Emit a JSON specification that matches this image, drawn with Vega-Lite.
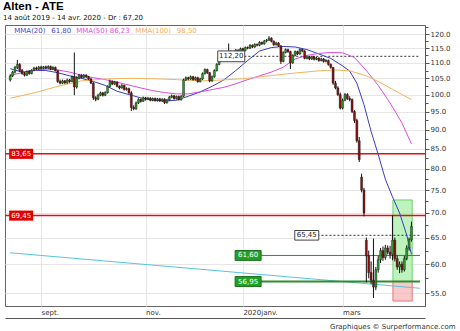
{
"$schema": "https://vega.github.io/schema/vega-lite/v6.json",
"width": 420, "height": 281,
"autosize": "none",
"padding": {"left": 5, "top": 25, "right": 35, "bottom": 25},
"background": "white",
"config": {"view": {"stroke": "#666", "strokeWidth": 1}, "font": "DejaVu Sans"},
"title": {"text": "Alten - ATE", "subtitle": "14 août 2019 - 14 avr. 2020 - Dr : 67,20", "anchor": "start", "frame": "group", "font": "Liberation Sans", "fontSize": 11.5, "fontWeight": "bold", "color": "#000", "subtitleFont": "DejaVu Sans", "subtitleFontSize": 7, "subtitleColor": "#111", "subtitlePadding": 2, "offset": 4, "dx": -2},
"datasets": {
"candles": [
{"i":0,"o":104.5,"h":106.3,"l":104.0,"c":105.8},{"i":1,"o":105.8,"h":107.4,"l":105.4,"c":107.0},{"i":2,"o":107.0,"h":109.0,"l":106.6,"c":108.5},{"i":3,"o":108.5,"h":111.0,"l":108.0,"c":109.5},{"i":4,"o":109.5,"h":109.9,"l":107.0,"c":107.5},{"i":5,"o":107.5,"h":108.0,"l":106.2,"c":106.5},{"i":6,"o":106.5,"h":107.0,"l":105.6,"c":106.0},{"i":7,"o":106.0,"h":107.5,"l":105.7,"c":107.2},{"i":8,"o":107.2,"h":107.6,"l":106.2,"c":106.5},{"i":9,"o":106.5,"h":107.9,"l":106.3,"c":107.6},
{"i":10,"o":107.6,"h":108.7,"l":107.3,"c":108.3},{"i":11,"o":108.3,"h":108.8,"l":107.6,"c":108.0},{"i":12,"o":108.0,"h":109.0,"l":107.7,"c":108.6},{"i":13,"o":108.6,"h":109.1,"l":107.8,"c":108.2},{"i":14,"o":108.2,"h":109.0,"l":107.9,"c":108.7},{"i":15,"o":108.7,"h":109.1,"l":107.9,"c":108.3},{"i":16,"o":108.3,"h":109.2,"l":108.0,"c":108.8},{"i":17,"o":108.8,"h":109.1,"l":107.6,"c":108.0},{"i":18,"o":108.0,"h":108.9,"l":107.7,"c":108.5},{"i":19,"o":108.5,"h":108.8,"l":107.2,"c":107.5},
{"i":20,"o":107.5,"h":107.7,"l":103.6,"c":104.0},{"i":21,"o":104.0,"h":104.6,"l":103.1,"c":103.5},{"i":22,"o":103.5,"h":104.6,"l":103.2,"c":104.2},{"i":23,"o":104.2,"h":104.5,"l":103.2,"c":103.6},{"i":24,"o":103.6,"h":104.9,"l":103.3,"c":104.5},{"i":25,"o":104.5,"h":104.8,"l":103.6,"c":104.0},{"i":26,"o":104.0,"h":105.9,"l":103.8,"c":105.5},{"i":27,"o":105.5,"h":113.5,"l":99.8,"c":102.3},{"i":28,"o":102.3,"h":105.6,"l":101.8,"c":105.0},{"i":29,"o":105.0,"h":106.4,"l":104.7,"c":106.0},
{"i":30,"o":106.0,"h":106.3,"l":105.0,"c":105.3},{"i":31,"o":105.3,"h":106.4,"l":105.0,"c":106.0},{"i":32,"o":106.0,"h":106.3,"l":105.1,"c":105.5},{"i":33,"o":105.5,"h":105.8,"l":104.5,"c":104.8},{"i":34,"o":104.8,"h":105.1,"l":103.2,"c":103.5},{"i":35,"o":103.5,"h":103.8,"l":98.4,"c":99.0},{"i":36,"o":99.0,"h":99.5,"l":98.0,"c":98.6},{"i":37,"o":98.6,"h":100.2,"l":98.3,"c":99.8},{"i":38,"o":99.8,"h":100.9,"l":99.5,"c":100.5},{"i":39,"o":100.5,"h":100.8,"l":99.4,"c":99.8},
{"i":40,"o":99.8,"h":101.0,"l":99.5,"c":100.6},{"i":41,"o":100.6,"h":102.8,"l":100.3,"c":102.5},{"i":42,"o":102.5,"h":104.6,"l":102.2,"c":104.0},{"i":43,"o":104.0,"h":104.3,"l":102.9,"c":103.2},{"i":44,"o":103.2,"h":104.2,"l":102.9,"c":103.8},{"i":45,"o":103.8,"h":104.1,"l":102.2,"c":102.5},{"i":46,"o":102.5,"h":102.8,"l":101.6,"c":102.0},{"i":47,"o":102.0,"h":103.2,"l":101.8,"c":102.8},{"i":48,"o":102.8,"h":103.0,"l":101.2,"c":101.5},{"i":49,"o":101.5,"h":102.2,"l":101.2,"c":101.8},
{"i":50,"o":101.8,"h":102.1,"l":100.2,"c":100.5},{"i":51,"o":100.5,"h":101.0,"l":95.2,"c":96.2},{"i":52,"o":96.2,"h":96.8,"l":95.4,"c":95.8},{"i":53,"o":95.8,"h":97.9,"l":95.5,"c":97.5},{"i":54,"o":97.5,"h":98.9,"l":97.2,"c":98.5},{"i":55,"o":98.5,"h":98.8,"l":97.6,"c":98.0},{"i":56,"o":98.0,"h":99.4,"l":97.8,"c":99.0},{"i":57,"o":99.0,"h":99.3,"l":98.2,"c":98.6},{"i":58,"o":98.6,"h":99.3,"l":98.3,"c":98.9},{"i":59,"o":98.9,"h":99.2,"l":98.0,"c":98.3},
{"i":60,"o":98.3,"h":99.1,"l":98.0,"c":98.8},{"i":61,"o":98.8,"h":99.1,"l":97.9,"c":98.2},{"i":62,"o":98.2,"h":99.0,"l":97.9,"c":98.7},{"i":63,"o":98.7,"h":99.0,"l":97.8,"c":98.1},{"i":64,"o":98.1,"h":98.9,"l":97.8,"c":98.6},{"i":65,"o":98.6,"h":98.9,"l":97.2,"c":97.6},{"i":66,"o":97.6,"h":98.7,"l":97.3,"c":98.4},{"i":67,"o":98.4,"h":99.6,"l":98.1,"c":99.2},{"i":68,"o":99.2,"h":100.0,"l":98.9,"c":99.6},{"i":69,"o":99.6,"h":99.9,"l":98.5,"c":98.8},
{"i":70,"o":98.8,"h":99.7,"l":98.5,"c":99.4},{"i":71,"o":99.4,"h":99.7,"l":98.2,"c":98.5},{"i":72,"o":98.5,"h":99.8,"l":98.2,"c":99.5},{"i":73,"o":99.5,"h":104.9,"l":99.3,"c":104.5},{"i":74,"o":104.5,"h":105.6,"l":104.2,"c":105.2},{"i":75,"o":105.2,"h":105.5,"l":104.4,"c":104.8},{"i":76,"o":104.8,"h":105.9,"l":104.5,"c":105.5},{"i":77,"o":105.5,"h":105.8,"l":104.3,"c":104.6},{"i":78,"o":104.6,"h":105.6,"l":104.3,"c":105.2},{"i":79,"o":105.2,"h":105.5,"l":103.6,"c":104.0},
{"i":80,"o":104.0,"h":105.2,"l":103.7,"c":104.8},{"i":81,"o":104.8,"h":106.9,"l":104.5,"c":106.5},{"i":82,"o":106.5,"h":108.2,"l":106.2,"c":107.8},{"i":83,"o":107.8,"h":108.1,"l":106.4,"c":106.8},{"i":84,"o":106.8,"h":107.0,"l":103.8,"c":104.2},{"i":85,"o":104.2,"h":105.9,"l":103.9,"c":105.5},{"i":86,"o":105.5,"h":107.9,"l":105.2,"c":107.5},{"i":87,"o":107.5,"h":109.9,"l":107.2,"c":109.5},{"i":88,"o":109.5,"h":112.2,"l":109.2,"c":111.8},{"i":89,"o":111.8,"h":112.1,"l":110.9,"c":111.3},
{"i":90,"o":111.3,"h":112.6,"l":111.0,"c":112.2},{"i":91,"o":112.2,"h":112.5,"l":111.4,"c":111.8},{"i":92,"o":111.8,"h":116.6,"l":111.5,"c":113.0},{"i":93,"o":113.0,"h":114.2,"l":112.7,"c":113.8},{"i":94,"o":113.8,"h":114.1,"l":112.9,"c":113.2},{"i":95,"o":113.2,"h":114.7,"l":113.0,"c":114.3},{"i":96,"o":114.3,"h":114.6,"l":113.6,"c":114.0},{"i":97,"o":114.0,"h":115.2,"l":113.7,"c":114.8},{"i":98,"o":114.8,"h":115.1,"l":113.8,"c":114.2},{"i":99,"o":114.2,"h":115.6,"l":113.9,"c":115.2},
{"i":100,"o":115.2,"h":115.6,"l":114.6,"c":115.0},{"i":101,"o":115.0,"h":116.4,"l":114.7,"c":116.0},{"i":102,"o":116.0,"h":116.3,"l":115.0,"c":115.4},{"i":103,"o":115.4,"h":116.7,"l":115.1,"c":116.3},{"i":104,"o":116.3,"h":116.6,"l":115.6,"c":116.0},{"i":105,"o":116.0,"h":117.4,"l":115.7,"c":117.0},{"i":106,"o":117.0,"h":117.3,"l":116.1,"c":116.5},{"i":107,"o":116.5,"h":117.9,"l":116.2,"c":117.5},{"i":108,"o":117.5,"h":118.2,"l":117.0,"c":117.8},{"i":109,"o":117.8,"h":119.2,"l":117.5,"c":118.5},
{"i":110,"o":118.5,"h":118.8,"l":117.0,"c":117.4},{"i":111,"o":117.4,"h":117.7,"l":115.8,"c":116.2},{"i":112,"o":116.2,"h":117.2,"l":115.9,"c":116.8},{"i":113,"o":116.8,"h":117.1,"l":115.4,"c":115.8},{"i":114,"o":115.8,"h":116.0,"l":109.6,"c":110.5},{"i":115,"o":110.5,"h":113.9,"l":110.2,"c":113.5},{"i":116,"o":113.5,"h":114.9,"l":113.2,"c":114.5},{"i":117,"o":114.5,"h":114.8,"l":113.4,"c":113.8},{"i":118,"o":113.8,"h":114.1,"l":108.0,"c":110.0},{"i":119,"o":110.0,"h":112.9,"l":109.7,"c":112.5},
{"i":120,"o":112.5,"h":114.2,"l":112.2,"c":113.8},{"i":121,"o":113.8,"h":114.1,"l":112.6,"c":113.0},{"i":122,"o":113.0,"h":114.9,"l":112.7,"c":114.5},{"i":123,"o":114.5,"h":114.8,"l":113.6,"c":114.0},{"i":124,"o":114.0,"h":114.3,"l":111.2,"c":111.5},{"i":125,"o":111.5,"h":112.4,"l":111.2,"c":112.0},{"i":126,"o":112.0,"h":112.3,"l":110.9,"c":111.3},{"i":127,"o":111.3,"h":112.4,"l":111.0,"c":112.0},{"i":128,"o":112.0,"h":112.3,"l":110.8,"c":111.2},{"i":129,"o":111.2,"h":112.0,"l":110.9,"c":111.6},
{"i":130,"o":111.6,"h":111.9,"l":110.4,"c":110.8},{"i":131,"o":110.8,"h":111.7,"l":110.5,"c":111.3},{"i":132,"o":111.3,"h":111.6,"l":110.1,"c":110.5},{"i":133,"o":110.5,"h":111.2,"l":110.2,"c":110.8},{"i":134,"o":110.8,"h":111.1,"l":109.1,"c":109.5},{"i":135,"o":109.5,"h":109.8,"l":108.1,"c":108.5},{"i":136,"o":108.5,"h":108.7,"l":103.0,"c":103.5},{"i":137,"o":103.5,"h":104.2,"l":101.6,"c":102.0},{"i":138,"o":102.0,"h":102.5,"l":99.6,"c":100.0},{"i":139,"o":100.0,"h":100.6,"l":95.6,"c":96.0},
{"i":140,"o":96.0,"h":98.8,"l":95.6,"c":98.3},{"i":141,"o":98.3,"h":100.5,"l":98.0,"c":100.0},{"i":142,"o":100.0,"h":100.4,"l":98.4,"c":98.8},{"i":143,"o":98.8,"h":99.5,"l":98.0,"c":98.5},{"i":144,"o":98.5,"h":98.8,"l":94.6,"c":95.0},{"i":145,"o":95.0,"h":95.4,"l":91.8,"c":92.5},{"i":146,"o":92.5,"h":93.0,"l":86.5,"c":87.0},{"i":147,"o":87.0,"h":88.0,"l":81.6,"c":82.2},{"i":148,"o":78.0,"h":78.8,"l":74.5,"c":75.0},{"i":149,"o":75.0,"h":75.5,"l":69.3,"c":70.0},
{"i":150,"o":64.5,"h":65.0,"l":56.8,"c":61.5},{"i":151,"o":61.5,"h":62.5,"l":57.5,"c":58.5},{"i":152,"o":58.5,"h":60.5,"l":56.5,"c":57.2},{"i":153,"o":57.2,"h":64.8,"l":54.2,"c":56.0},{"i":154,"o":56.0,"h":59.5,"l":55.5,"c":59.0},{"i":155,"o":59.0,"h":61.5,"l":58.5,"c":60.8},{"i":156,"o":60.8,"h":63.0,"l":60.2,"c":62.5},{"i":157,"o":62.5,"h":63.3,"l":60.6,"c":61.2},{"i":158,"o":61.2,"h":63.6,"l":60.8,"c":63.0},{"i":159,"o":63.0,"h":63.5,"l":61.8,"c":62.2},
{"i":160,"o":62.2,"h":63.4,"l":61.0,"c":61.8},{"i":161,"o":61.8,"h":69.5,"l":60.7,"c":64.5},{"i":162,"o":64.5,"h":65.0,"l":60.5,"c":61.0},{"i":163,"o":61.0,"h":61.6,"l":59.0,"c":59.5},{"i":164,"o":59.5,"h":60.5,"l":58.4,"c":60.0},{"i":165,"o":60.0,"h":60.5,"l":58.5,"c":59.0},{"i":166,"o":59.0,"h":61.5,"l":58.7,"c":61.0},{"i":167,"o":61.0,"h":63.5,"l":60.7,"c":63.0},{"i":168,"o":63.0,"h":65.0,"l":62.5,"c":64.6},{"i":169,"o":64.6,"h":68.2,"l":64.2,"c":67.2}
],
"ma": [
{"s":"MMA(20)","i":0,"v":108.1},{"s":"MMA(20)","i":5,"v":107.0},{"s":"MMA(20)","i":10,"v":107.5},{"s":"MMA(20)","i":15,"v":107.5},{"s":"MMA(20)","i":20,"v":106.8},{"s":"MMA(20)","i":25,"v":105.8},{"s":"MMA(20)","i":30,"v":105.0},{"s":"MMA(20)","i":35,"v":104.0},{"s":"MMA(20)","i":40,"v":102.8},{"s":"MMA(20)","i":45,"v":101.0},{"s":"MMA(20)","i":50,"v":100.0},{"s":"MMA(20)","i":55,"v":99.0},{"s":"MMA(20)","i":60,"v":98.4},{"s":"MMA(20)","i":65,"v":98.1},{"s":"MMA(20)","i":70,"v":98.3},{"s":"MMA(20)","i":75,"v":99.5},{"s":"MMA(20)","i":80,"v":100.8},{"s":"MMA(20)","i":85,"v":102.5},{"s":"MMA(20)","i":90,"v":104.5},{"s":"MMA(20)","i":95,"v":107.5},{"s":"MMA(20)","i":100,"v":110.8},{"s":"MMA(20)","i":105,"v":114.0},{"s":"MMA(20)","i":110,"v":115.2},{"s":"MMA(20)","i":115,"v":115.6},{"s":"MMA(20)","i":120,"v":115.4},{"s":"MMA(20)","i":125,"v":114.5},{"s":"MMA(20)","i":130,"v":113.0},{"s":"MMA(20)","i":135,"v":111.5},{"s":"MMA(20)","i":140,"v":109.0},{"s":"MMA(20)","i":143,"v":107.3},{"s":"MMA(20)","i":146,"v":103.5},{"s":"MMA(20)","i":149,"v":97.0},{"s":"MMA(20)","i":152,"v":89.5},{"s":"MMA(20)","i":155,"v":83.5},{"s":"MMA(20)","i":158,"v":77.5},{"s":"MMA(20)","i":161,"v":73.5},{"s":"MMA(20)","i":164,"v":70.0},{"s":"MMA(20)","i":167,"v":65.5},{"s":"MMA(20)","i":169,"v":61.8},
{"s":"MMA(50)","i":0,"v":106.0},{"s":"MMA(50)","i":5,"v":106.8},{"s":"MMA(50)","i":10,"v":107.6},{"s":"MMA(50)","i":15,"v":108.0},{"s":"MMA(50)","i":20,"v":107.7},{"s":"MMA(50)","i":25,"v":107.0},{"s":"MMA(50)","i":30,"v":106.0},{"s":"MMA(50)","i":35,"v":105.2},{"s":"MMA(50)","i":40,"v":104.6},{"s":"MMA(50)","i":45,"v":103.8},{"s":"MMA(50)","i":50,"v":102.9},{"s":"MMA(50)","i":55,"v":102.0},{"s":"MMA(50)","i":60,"v":101.2},{"s":"MMA(50)","i":65,"v":100.6},{"s":"MMA(50)","i":70,"v":100.2},{"s":"MMA(50)","i":75,"v":100.2},{"s":"MMA(50)","i":80,"v":100.8},{"s":"MMA(50)","i":85,"v":101.5},{"s":"MMA(50)","i":90,"v":102.2},{"s":"MMA(50)","i":95,"v":103.3},{"s":"MMA(50)","i":100,"v":104.6},{"s":"MMA(50)","i":105,"v":105.8},{"s":"MMA(50)","i":110,"v":107.0},{"s":"MMA(50)","i":115,"v":108.6},{"s":"MMA(50)","i":120,"v":111.3},{"s":"MMA(50)","i":125,"v":112.5},{"s":"MMA(50)","i":130,"v":113.2},{"s":"MMA(50)","i":135,"v":113.5},{"s":"MMA(50)","i":140,"v":113.4},{"s":"MMA(50)","i":145,"v":111.8},{"s":"MMA(50)","i":150,"v":107.5},{"s":"MMA(50)","i":155,"v":102.8},{"s":"MMA(50)","i":160,"v":97.5},{"s":"MMA(50)","i":165,"v":91.8},{"s":"MMA(50)","i":169,"v":86.2},
{"s":"MMA(100)","i":0,"v":98.9},{"s":"MMA(100)","i":10,"v":100.5},{"s":"MMA(100)","i":20,"v":102.5},{"s":"MMA(100)","i":30,"v":104.2},{"s":"MMA(100)","i":40,"v":104.8},{"s":"MMA(100)","i":50,"v":105.0},{"s":"MMA(100)","i":60,"v":104.9},{"s":"MMA(100)","i":70,"v":104.6},{"s":"MMA(100)","i":80,"v":104.2},{"s":"MMA(100)","i":90,"v":104.5},{"s":"MMA(100)","i":100,"v":105.0},{"s":"MMA(100)","i":110,"v":105.9},{"s":"MMA(100)","i":120,"v":106.7},{"s":"MMA(100)","i":130,"v":107.4},{"s":"MMA(100)","i":137,"v":107.7},{"s":"MMA(100)","i":143,"v":107.4},{"s":"MMA(100)","i":150,"v":105.8},{"s":"MMA(100)","i":155,"v":104.0},{"s":"MMA(100)","i":160,"v":102.0},{"s":"MMA(100)","i":165,"v":100.0},{"s":"MMA(100)","i":169,"v":98.5}
],
"trend": [{"i":-0.1,"v":62.1},{"i":172.6,"v":55.8}],
"lv": [
{"g":"r","v":83.65,"t":"83,65"},{"g":"r","v":69.45,"t":"69,45"},
{"g":"d1","v":112.2,"t":"112,20"},{"g":"d2","v":65.45,"t":"65,45"},
{"g":"g1","v":61.6,"t":"61,60"},{"g":"g2","v":56.95,"t":"56,95"}
],
"zones": [{"z":"up","lo":56.95,"hi":72.8},{"z":"down","lo":53.7,"hi":56.95}],
"legend": [
{"s":"MMA(20)","t":"MMA(20)\u2002 61,80"},{"s":"MMA(50)","t":"MMA(50)  86,23"},{"s":"MMA(100)","t":"MMA(100)\u2002  98,50"}
]
},
"layer": [
{"data": {"name": "candles"}, "mark": {"type": "rule", "strokeWidth": 0, "clip": true},
 "encoding": {
  "x": {"field": "i", "type": "quantitative", "scale": {"domain": [-0.1, 172.6], "nice": false, "zero": false},
   "axis": {"values": [13, 57, 98, 140], "labelExpr": "datum.value == 13 ? 'sept.' : datum.value == 57 ? 'nov.' : datum.value == 98 ? '2020janv.' : 'mars'", "labelAlign": "left", "labelBaseline": "top", "labelPadding": -10, "labelFont": "DejaVu Sans", "labelFontSize": 7, "labelColor": "#333", "ticks": false, "tickSize": 0, "offset": 12, "domainColor": "#555", "grid": true, "gridColor": "#e6e6e6", "title": "Graphiques © Surperformance.com", "titleAnchor": "end", "titleAlign": "right", "titleBaseline": "alphabetic", "titleX": 450, "titleY": 10, "titleFont": "DejaVu Sans", "titleFontSize": 7, "titleFontWeight": "normal", "titleColor": "#333"}},
  "y": {"field": "l", "type": "quantitative", "scale": {"type": "log", "domain": [52.9, 123.3], "nice": false, "zero": false},
   "axis": {"orient": "right", "values": [55, 57.5, 60, 62.5, 65, 67.5, 70, 72.5, 75, 77.5, 80, 82.5, 85, 87.5, 90, 92.5, 95, 97.5, 100, 102.5, 105, 107.5, 110, 112.5, 115, 117.5, 120, 122.5], "labelExpr": "datum.value % 5 == 0 ? format(datum.value, '.1f') : ''", "labelFont": "DejaVu Sans", "labelFontSize": 7, "labelColor": "#333", "labelPadding": 1, "tickColor": "#555", "tickSize": {"condition": {"test": "datum.value % 5 == 0", "value": 4}, "value": 3}, "domainColor": "#555", "grid": true, "gridColor": "#e6e6e6", "gridOpacity": {"condition": {"test": "datum.value % 5 == 0", "value": 1}, "value": 0}, "title": null}}
 }},
{"data": {"name": "zones"}, "mark": {"type": "rect", "strokeWidth": 1},
 "encoding": {
  "x": {"datum": 161.2, "type": "quantitative"}, "x2": {"datum": 169.3},
  "y": {"field": "lo", "type": "quantitative"}, "y2": {"field": "hi"},
  "fill": {"field": "z", "type": "nominal", "scale": {"domain": ["up", "down"], "range": ["#a8f0a8", "#f8b8b8"]}, "legend": null},
  "stroke": {"field": "z", "type": "nominal", "scale": {"domain": ["up", "down"], "range": ["#40c040", "#e04848"]}, "legend": null},
  "opacity": {"value": 0.75}
 }},
{"data": {"name": "trend"}, "mark": {"type": "line", "color": "#56c4de", "strokeWidth": 1, "clip": true},
 "encoding": {"x": {"field": "i", "type": "quantitative"}, "y": {"field": "v", "type": "quantitative"}}},
{"data": {"name": "lv"}, "transform": [{"filter": "datum.g == 'r'"}], "mark": {"type": "rule", "color": "#e01010", "strokeWidth": 1.5},
 "encoding": {"y": {"field": "v", "type": "quantitative"}}},
{"data": {"name": "lv"}, "transform": [{"filter": "datum.g == 'd1'"}], "mark": {"type": "rule", "color": "#333", "strokeWidth": 1, "strokeDash": [2, 2]},
 "encoding": {"x": {"datum": 98.6, "type": "quantitative"}, "x2": {"datum": 172.6}, "y": {"field": "v", "type": "quantitative"}}},
{"data": {"name": "lv"}, "transform": [{"filter": "datum.g == 'd2'"}], "mark": {"type": "rule", "color": "#333", "strokeWidth": 1, "strokeDash": [2, 2]},
 "encoding": {"x": {"datum": 129.4, "type": "quantitative"}, "x2": {"datum": 172.6}, "y": {"field": "v", "type": "quantitative"}}},
{"data": {"name": "lv"}, "transform": [{"filter": "datum.g == 'g1' || datum.g == 'g2'"}], "mark": {"type": "rule", "color": "#2e8b2e"},
 "encoding": {"x": {"datum": 105.6, "type": "quantitative"}, "x2": {"datum": 172.6}, "y": {"field": "v", "type": "quantitative"}, "strokeWidth": {"condition": {"test": "datum.g == 'g2'", "value": 2}, "value": 1}}},
{"data": {"name": "ma"}, "mark": {"type": "line", "strokeWidth": 1, "clip": true},
 "encoding": {"x": {"field": "i", "type": "quantitative"}, "y": {"field": "v", "type": "quantitative"},
  "color": {"field": "s", "type": "nominal", "scale": {"domain": ["MMA(20)", "MMA(50)", "MMA(100)"], "range": ["#3b3bc4", "#e048e0", "#f3b45c"]}, "legend": null}}},
{"data": {"name": "candles"}, "mark": {"type": "rule", "color": "#111", "strokeWidth": 1, "clip": true},
 "encoding": {"x": {"field": "i", "type": "quantitative"}, "y": {"field": "l", "type": "quantitative"}, "y2": {"field": "h"}}},
{"data": {"name": "candles"}, "mark": {"type": "bar", "width": 2, "stroke": "#111", "strokeWidth": 0.4, "clip": true},
 "encoding": {"x": {"field": "i", "type": "quantitative"}, "y": {"field": "o", "type": "quantitative"}, "y2": {"field": "c"},
  "fill": {"condition": {"test": "datum.c >= datum.o", "value": "#2f9a2f"}, "value": "#8b1010"}}},
{"data": {"name": "lv"}, "transform": [{"filter": "datum.g == 'r'"}], "mark": {"type": "point", "shape": "M-1,-0.42H1V0.42H-1Z", "size": 576, "filled": true, "fill": "#e00000", "opacity": 1, "strokeWidth": 0},
 "encoding": {"x": {"datum": 4.6, "type": "quantitative"}, "y": {"field": "v", "type": "quantitative"}}},
{"data": {"name": "lv"}, "transform": [{"filter": "datum.g == 'r'"}], "mark": {"type": "text", "color": "white", "fontSize": 7, "font": "DejaVu Sans", "align": "center", "baseline": "middle"},
 "encoding": {"x": {"datum": 4.6, "type": "quantitative"}, "y": {"field": "v", "type": "quantitative"}, "text": {"field": "t"}}},
{"data": {"name": "lv"}, "transform": [{"filter": "datum.g == 'd1'"}], "mark": {"type": "point", "shape": "M-1,-0.4H1V0.4H-1Z", "size": 729, "filled": true, "fill": "white", "stroke": "#444", "strokeWidth": 1, "opacity": 1},
 "encoding": {"x": {"datum": 93.1, "type": "quantitative"}, "y": {"field": "v", "type": "quantitative"}}},
{"data": {"name": "lv"}, "transform": [{"filter": "datum.g == 'd1'"}], "mark": {"type": "text", "color": "#222", "fontSize": 7, "font": "DejaVu Sans", "align": "center", "baseline": "middle"},
 "encoding": {"x": {"datum": 93.1, "type": "quantitative"}, "y": {"field": "v", "type": "quantitative"}, "text": {"field": "t"}}},
{"data": {"name": "lv"}, "transform": [{"filter": "datum.g == 'd2'"}], "mark": {"type": "point", "shape": "M-1,-0.4H1V0.4H-1Z", "size": 576, "filled": true, "fill": "white", "stroke": "#444", "strokeWidth": 1, "opacity": 1},
 "encoding": {"x": {"datum": 124.9, "type": "quantitative"}, "y": {"field": "v", "type": "quantitative"}}},
{"data": {"name": "lv"}, "transform": [{"filter": "datum.g == 'd2'"}], "mark": {"type": "text", "color": "#222", "fontSize": 7, "font": "DejaVu Sans", "align": "center", "baseline": "middle"},
 "encoding": {"x": {"datum": 124.9, "type": "quantitative"}, "y": {"field": "v", "type": "quantitative"}, "text": {"field": "t"}}},
{"data": {"name": "lv"}, "transform": [{"filter": "datum.g == 'g1' || datum.g == 'g2'"}], "mark": {"type": "point", "shape": "M-1,-0.38H1V0.38H-1Z", "size": 676, "filled": true, "fill": "#23a023", "stroke": "#1a701a", "strokeWidth": 1, "opacity": 1},
 "encoding": {"x": {"datum": 100.2, "type": "quantitative"}, "y": {"field": "v", "type": "quantitative"}}},
{"data": {"name": "lv"}, "transform": [{"filter": "datum.g == 'g1' || datum.g == 'g2'"}], "mark": {"type": "text", "color": "white", "fontSize": 7, "font": "DejaVu Sans", "align": "center", "baseline": "middle"},
 "encoding": {"x": {"datum": 100.2, "type": "quantitative"}, "y": {"field": "v", "type": "quantitative"}, "text": {"field": "t"}}},
{"data": {"name": "legend"}, "transform": [{"filter": "datum.s == 'MMA(20)'"}], "mark": {"type": "text", "color": "#4848c8", "fontSize": 7, "font": "DejaVu Sans", "align": "left", "baseline": "middle"},
 "encoding": {"x": {"datum": 1.7, "type": "quantitative"}, "y": {"datum": 121.2, "type": "quantitative"}, "text": {"field": "t"}}},
{"data": {"name": "legend"}, "transform": [{"filter": "datum.s == 'MMA(50)'"}], "mark": {"type": "text", "color": "#e050e0", "fontSize": 7, "font": "DejaVu Sans", "align": "left", "baseline": "middle"},
 "encoding": {"x": {"datum": 27.8, "type": "quantitative"}, "y": {"datum": 121.2, "type": "quantitative"}, "text": {"field": "t"}}},
{"data": {"name": "legend"}, "transform": [{"filter": "datum.s == 'MMA(100)'"}], "mark": {"type": "text", "color": "#f0b060", "fontSize": 7, "font": "DejaVu Sans", "align": "left", "baseline": "middle"},
 "encoding": {"x": {"datum": 52.7, "type": "quantitative"}, "y": {"datum": 121.2, "type": "quantitative"}, "text": {"field": "t"}}}
]
}
